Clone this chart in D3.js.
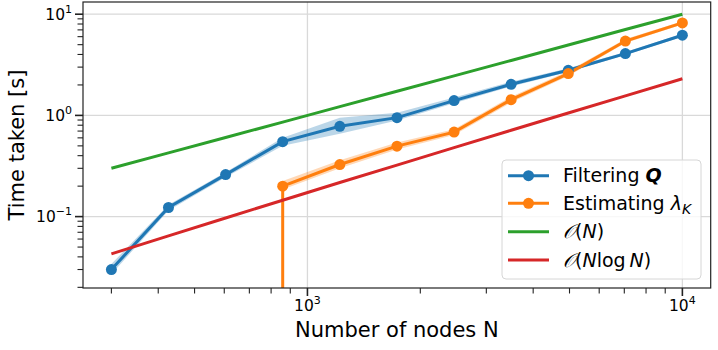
<!DOCTYPE html>
<html>
<head>
<meta charset="utf-8">
<script src="https://cdn.jsdelivr.net/npm/d3@7"></script>
<style>
  body { margin: 0; background: #fff; }
  svg { font-family: "DejaVu Sans", sans-serif; }
</style>
</head>
<body>
<svg id="chart" width="718" height="350"></svg>
<script>
// node counts (x) and timings (y)
const nodes = [300, 426, 605, 859, 1220, 1733, 2461, 3494, 4962, 7047, 10000];

const filterTime = [0.030, 0.123, 0.26, 0.55, 0.78, 0.95, 1.40, 2.03, 2.79, 4.08, 6.2];
const filterLo   = [0.027, 0.115, 0.245, 0.50, 0.66, 0.89, 1.32, 1.93, 2.68, 3.95, 6.0];
const filterHi   = [0.034, 0.131, 0.275, 0.60, 0.95, 1.06, 1.50, 2.15, 2.92, 4.22, 6.4];

const estimTime = [null, null, null, 0.20, 0.327, 0.497, 0.684, 1.43, 2.59, 5.43, 8.2];
const estimLo   = [null, null, null, 0.185, 0.30, 0.46, 0.64, 1.34, 2.45, 5.2, 7.9];
const estimHi   = [null, null, null, 0.225, 0.36, 0.54, 0.73, 1.53, 2.75, 5.7, 8.5];

const orderN     = [0.30, 0.426, 0.605, 0.859, 1.22, 1.73, 2.46, 3.49, 4.96, 7.05, 10.0];
const orderNlogN = [0.0428, 0.0645, 0.0969, 0.145, 0.217, 0.323, 0.480, 0.713, 1.056, 1.561, 2.303];

const C = { blue: "#1f77b4", orange: "#ff7f0e", green: "#2ca02c", red: "#d62728" };

const svg = d3.select("#chart");
const L = 83, R = 710.7, T = 2, B = 288;

const x = d3.scaleLog().domain([252, 11900]).range([L, R]);
const y = d3.scaleLog().domain([0.0197, 13.2]).range([B, T]);

const isMajor = d => Math.abs(Math.log10(d) - Math.round(Math.log10(d))) < 1e-9;

svg.append("clipPath").attr("id", "plot")
  .append("rect").attr("x", L).attr("y", T).attr("width", R - L).attr("height", B - T);

// grid
const grid = svg.append("g").attr("stroke", "#d9d9d9").attr("stroke-width", 1.3);
x.ticks().filter(isMajor).forEach(d => {
  grid.append("line").attr("x1", x(d)).attr("x2", x(d)).attr("y1", T).attr("y2", B);
});
y.ticks().filter(isMajor).forEach(d => {
  grid.append("line").attr("x1", L).attr("x2", R).attr("y1", y(d)).attr("y2", y(d));
});

const plot = svg.append("g").attr("clip-path", "url(#plot)");

const idx = d3.range(nodes.length);
const area = (lo, hi) => d3.area()
  .defined(i => lo[i] != null)
  .x(i => x(nodes[i])).y0(i => y(lo[i])).y1(i => y(hi[i]));
const line = vals => d3.line()
  .defined(i => vals[i] != null)
  .x(i => x(nodes[i])).y(i => y(vals[i]));

plot.append("path").attr("d", area(filterLo, filterHi)(idx))
  .attr("fill", C.blue).attr("fill-opacity", 0.3);
plot.append("path").attr("d", area(estimLo, estimHi)(idx))
  .attr("fill", C.orange).attr("fill-opacity", 0.3);

plot.append("path").attr("d", line(filterTime)(idx))
  .attr("fill", "none").attr("stroke", C.blue).attr("stroke-width", 3);

// estimating curve rises from zero at its first N
const firstEst = estimTime.findIndex(v => v != null);
plot.append("line")
  .attr("x1", x(nodes[firstEst])).attr("x2", x(nodes[firstEst]))
  .attr("y1", y(estimTime[firstEst])).attr("y2", B + 10)
  .attr("stroke", C.orange).attr("stroke-width", 3);
plot.append("path").attr("d", line(estimTime)(idx))
  .attr("fill", "none").attr("stroke", C.orange).attr("stroke-width", 3);

plot.append("path").attr("d", line(orderN)(idx))
  .attr("fill", "none").attr("stroke", C.green).attr("stroke-width", 3);
plot.append("path").attr("d", line(orderNlogN)(idx))
  .attr("fill", "none").attr("stroke", C.red).attr("stroke-width", 3);

plot.selectAll("circle.f").data(idx).join("circle")
  .attr("cx", i => x(nodes[i])).attr("cy", i => y(filterTime[i]))
  .attr("r", 5.5).attr("fill", C.blue);
plot.selectAll("circle.e").data(idx.filter(i => estimTime[i] != null)).join("circle")
  .attr("cx", i => x(nodes[i])).attr("cy", i => y(estimTime[i]))
  .attr("r", 5.5).attr("fill", C.orange);

// frame
svg.append("rect").attr("x", L).attr("y", T).attr("width", R - L).attr("height", B - T)
  .attr("fill", "none").attr("stroke", "#222").attr("stroke-width", 1.2);

// ticks
const tk = svg.append("g").attr("stroke", "#222");
x.ticks().forEach(d => {
  const m = isMajor(d);
  tk.append("line").attr("x1", x(d)).attr("x2", x(d)).attr("y1", B).attr("y2", B + (m ? 8 : 5.5))
    .attr("stroke-width", m ? 1.6 : 1.1);
});
y.ticks().forEach(d => {
  const m = isMajor(d);
  tk.append("line").attr("y1", y(d)).attr("y2", y(d)).attr("x1", L).attr("x2", L - (m ? 8 : 5.5))
    .attr("stroke-width", m ? 1.6 : 1.1);
});

const pow = (sel, e) => {
  sel.append("tspan").text("10");
  sel.append("tspan").attr("dy", -7).attr("font-size", 11).text(e);
};
x.ticks().filter(isMajor).forEach(d => {
  const t = svg.append("text").attr("x", x(d)).attr("y", 311)
    .attr("text-anchor", "middle").attr("font-size", 15.5).attr("fill", "#000");
  pow(t, String(Math.round(Math.log10(d))));
});
y.ticks().filter(isMajor).forEach(d => {
  const t = svg.append("text").attr("x", L - 11).attr("y", y(d) + 5.5)
    .attr("text-anchor", "end").attr("font-size", 15.5).attr("fill", "#000");
  const e = Math.round(Math.log10(d));
  pow(t, e < 0 ? "\u2212" + (-e) : String(e));
});

svg.append("text").attr("x", (L + R) / 2).attr("y", 337)
  .attr("text-anchor", "middle").attr("font-size", 21).text("Number of nodes N");
svg.append("text").attr("transform", `translate(24,${(T + B) / 2}) rotate(-90)`)
  .attr("text-anchor", "middle").attr("font-size", 21).text("Time taken [s]");

// legend
const lg = svg.append("g");
lg.append("rect").attr("x", 502).attr("y", 160).attr("width", 199).attr("height", 119)
  .attr("rx", 4).attr("fill", "#fff").attr("fill-opacity", 0.8)
  .attr("stroke", "#d6d6d6").attr("stroke-width", 1);

const rows = [
  { color: C.blue, marker: true, y: 175.7 },
  { color: C.orange, marker: true, y: 203.3 },
  { color: C.green, marker: false, y: 231.7 },
  { color: C.red, marker: false, y: 260 }
];
rows.forEach(r => {
  lg.append("line").attr("x1", 508).attr("x2", 549).attr("y1", r.y).attr("y2", r.y)
    .attr("stroke", r.color).attr("stroke-width", 3);
  if (r.marker) lg.append("circle").attr("cx", 528.5).attr("cy", r.y).attr("r", 5.5).attr("fill", r.color);
});

const lt = (yy) => lg.append("text").attr("x", 563).attr("y", yy + 6.5).attr("font-size", 19);
let t = lt(rows[0].y);
t.append("tspan").text("Filtering ");
t.append("tspan").attr("font-weight", "bold").attr("font-style", "italic").text("Q");
t = lt(rows[1].y);
t.append("tspan").text("Estimating ");
t.append("tspan").attr("font-style", "italic").text("\u03bb");
t.append("tspan").attr("font-style", "italic").attr("font-size", 14).attr("dy", 4).text("K");
t = lt(rows[2].y);
t.append("tspan").attr("font-style", "italic").text("\u{1D4AA}");
t.append("tspan").text("(");
t.append("tspan").attr("font-style", "italic").text("N");
t.append("tspan").text(")");
t = lt(rows[3].y);
t.append("tspan").attr("font-style", "italic").text("\u{1D4AA}");
t.append("tspan").text("(");
t.append("tspan").attr("font-style", "italic").text("N");
t.append("tspan").text("log\u2009");
t.append("tspan").attr("font-style", "italic").text("N");
t.append("tspan").text(")");
</script>
</body>
</html>
